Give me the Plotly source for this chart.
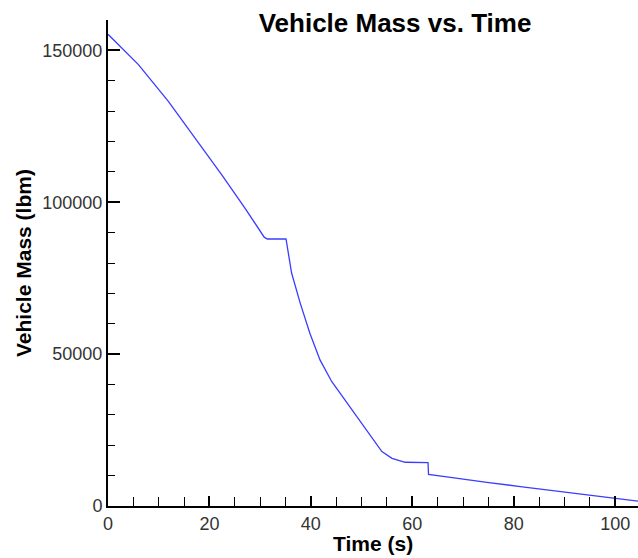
import plotly.graph_objects as go

time_s = [0, 6.0, 11.9, 17.2, 22.4, 27.0, 30.8, 31.4, 35.1, 36.2, 37.9, 39.8, 41.8,
          44.1, 48.1, 51.3, 54.0, 56.0, 58.6, 63.1, 63.2, 66.8, 71.4, 74.7, 81.3,
          87.8, 94.4, 99.7, 104.5]
mass_lbm = [155300, 145300, 133200, 121200, 109100, 98100, 88500, 87900, 87900, 76700,
            66800, 56900, 48100, 41000, 31600, 24000, 17900, 15700, 14400, 14300,
            10400, 9600, 8500, 7800, 6400, 5000, 3600, 2500, 1600]

title_text = "Vehicle Mass vs. Time"
x_title = "Time (s)"
y_title = "Vehicle Mass (lbm)"

fig = go.Figure()
fig.add_trace(go.Scatter(x=time_s, y=mass_lbm, mode="lines",
                         line=dict(color="#3c3cff", width=1.3), showlegend=False))

font_fam = "Liberation Sans, Arial, sans-serif"

fig.update_layout(
    width=638, height=558,
    margin=dict(l=108, r=0, t=20, b=52),
    paper_bgcolor="white", plot_bgcolor="white",
    title=dict(text=title_text, x=395/638, xanchor="center", y=1-23/558, yanchor="middle",
               font=dict(family=font_fam, size=26, color="black", weight="bold")),
    xaxis=dict(range=[0, 104.5], showgrid=False, zeroline=False, showline=True,
               linecolor="black", linewidth=2, ticks="inside", ticklen=10, tickwidth=2,
               tickcolor="black", tick0=0, dtick=20,
               tickfont=dict(family=font_fam, size=18, color="#333333"),
               minor=dict(ticks="inside", ticklen=9, tickwidth=1, tickcolor="black", dtick=5)),
    yaxis=dict(range=[0, 160000], showgrid=False, zeroline=False, showline=True,
               linecolor="black", linewidth=2, ticks="inside", ticklen=12, tickwidth=2,
               tickcolor="black", tick0=0, dtick=50000, tickformat="d",
               tickfont=dict(family=font_fam, size=18, color="#333333"),
               minor=dict(ticks="inside", ticklen=7, tickwidth=1, tickcolor="black", dtick=10000)),
    annotations=[
        dict(text=x_title, xref="paper", yref="paper", x=0.5, y=0, xanchor="center",
             yanchor="middle", yshift=-37, showarrow=False,
             font=dict(family=font_fam, size=21, color="black", weight="bold")),
        dict(text=y_title, xref="paper", yref="paper", x=0, y=0.5, xanchor="center",
             yanchor="middle", xshift=-85, textangle=-90, showarrow=False,
             font=dict(family=font_fam, size=21, color="black", weight="bold")),
    ],
)

fig.write_html("out.html", config={"displayModeBar": False},
               post_script="document.body.style.margin='0';document.body.style.overflow='hidden';")
